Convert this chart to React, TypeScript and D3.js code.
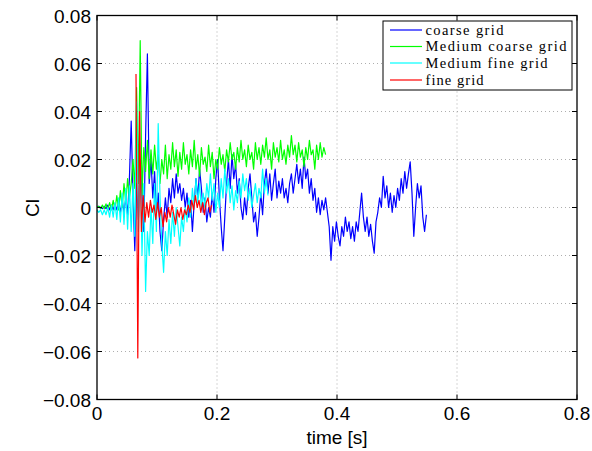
import React from "react";
import * as d3 from "d3";

const T_STEP = 0.003;
const RED_START = 0.065;

const xTicks = [0, 0.2, 0.4, 0.6, 0.8];
const yTicks = [-0.08, -0.06, -0.04, -0.02, 0, 0.02, 0.04, 0.06, 0.08];

const seriesNames = ["coarse grid", "Medium coarse grid", "Medium fine grid", "fine grid"];
const seriesColors = ["#0000ff", "#00ff00", "#00ffff", "#ff0000"];

const coarseCl = [
  0, 0.0005, 0, -0.0005, 0.0005, -0.0005, 0.001, -0.001, 0.001, -0.001,
  0.0015, -0.001, 0.002, -0.002, 0.003, -0.002, 0.004, -0.003, 0.012, 0.036,
  0.005, -0.018, 0.01, -0.005, 0.02, 0.005, -0.01, 0.03, 0.064, 0.01,
  0.02, 0.004, 0.015, -0.002, 0.006, -0.01, -0.018, -0.005, 0.004, -0.004,
  0.008, 0.002, 0.012, 0.004, 0.014, 0.006, 0.01, 0.003, 0.008, 0,
  0.006, -0.004, 0.003, -0.01, 0.002, 0.012, 0.004, 0.016, 0.008, -0.002,
  0.004, -0.006, 0, -0.004, 0.006, -0.002, 0.012, 0.02, 0.004, -0.008,
  -0.018, -0.004, 0.01, 0.02, 0.008, 0.022, 0.012, 0.018, 0.006, 0.012,
  0, -0.005, 0.004, -0.003, 0.008, 0.014, 0.004, -0.006, -0.002, -0.012,
  -0.004, 0.006, -0.003, 0.01, 0.016, 0.006, 0.014, 0.003, 0.01, 0.016,
  0.004, 0.011, 0.006, 0.012, 0.004, 0.008, 0.002, 0.01, 0.014, 0.006,
  0.012, 0.018, 0.01, 0.016, 0.008, 0.021, 0.012, 0.016, 0.006, 0.012,
  0.003, 0.008, -0.002, 0.004, -0.003, 0.003, -0.001, 0.004, -0.002, -0.008,
  -0.022, -0.008, -0.014, -0.006, -0.012, -0.016, -0.008, -0.012, -0.004, -0.01,
  -0.006, -0.013, -0.008, -0.014, -0.006, -0.01, -0.002, 0.006, -0.004, -0.01,
  -0.004, -0.012, -0.007, -0.014, -0.019, -0.006, -0.002, 0.004, 0, 0.013,
  0.004, 0.009, 0, 0.006, -0.002, 0.005, 0, 0.008, 0.003, 0.012,
  0.006, 0.015, 0.008, 0.014, 0.019, 0.006, -0.012, 0, 0.01, 0.004,
  0.009, -0.004, -0.01, -0.003,
];

const mediumCoarseCl = [
  0, 0.0005, -0.0005, 0.001, -0.0005, 0.0015, -0.001, 0.002, -0.001, 0.003,
  -0.001, 0.005, -0.001, 0.007, 0, 0.01, 0.002, 0.012, 0.004, 0.01,
  0.02, 0.008, 0.05, 0.01, 0.0695, 0.005, 0.025, 0.015, 0.028, 0.012,
  0.024, 0.014, 0.026, 0.016, 0.022, 0.01, 0.02, 0.014, 0.026, 0.012,
  0.022, 0.016, 0.027, 0.017, 0.024, 0.013, 0.023, 0.016, 0.027, 0.018,
  0.022, 0.014, 0.024, 0.017, 0.028, 0.016, 0.022, 0.013, 0.025, 0.018,
  0.021, 0.015, 0.026, 0.017, 0.023, 0.012, 0.02, 0.016, 0.025, 0.018,
  0.022, 0.015, 0.024, 0.019, 0.027, 0.02, 0.023, 0.016, 0.025, 0.019,
  0.028, 0.02, 0.024, 0.017, 0.026, 0.02, 0.023, 0.016, 0.027, 0.02,
  0.025, 0.018, 0.026, 0.021, 0.029, 0.02, 0.024, 0.016, 0.027, 0.021,
  0.025, 0.019, 0.028, 0.02, 0.024, 0.018, 0.026, 0.021, 0.03, 0.022,
  0.026, 0.019, 0.027, 0.021, 0.024, 0.017, 0.025, 0.02, 0.028, 0.022,
  0.024, 0.016, 0.026, 0.02, 0.027, 0.021, 0.025, 0.022,
];

const mediumFineCl = [
  -0.001, -0.002, -0.001, -0.003, -0.001, -0.003, 0, -0.004, 0.001, -0.004,
  0.002, -0.005, 0.004, -0.006, 0.006, -0.007, 0.008, -0.009, 0.009, -0.01,
  0.01, -0.012, 0.044, -0.01, 0.02, -0.02, 0.01, -0.035, -0.01, -0.02,
  0, -0.015, 0.01, -0.01, 0.035, 0.005, -0.015, -0.027, -0.01, -0.02,
  -0.005, -0.015, -0.002, -0.012, 0, -0.008, -0.016, -0.004, -0.01, 0,
  -0.006, 0.004, -0.004, 0.008, 0, 0.012, 0.002, 0.01, -0.001, 0.006,
  0, 0.01, 0.004, 0.014, 0.003, 0.01, -0.002, 0.006, 0, 0.012,
  0.004, 0.016, 0.006, 0.012, 0.002, 0.009, -0.001, 0.007, 0.002, 0.011,
  0.004, 0.014, 0.007, 0.012, 0.003, 0.008, 0, 0.005, 0.01, 0.002,
  0.008, 0.004, 0.016, 0.006, 0.012, 0.005,
];

const fineCl = [
  0.0556, -0.0627, 0.04, -0.01, 0.005, -0.006, 0.002, -0.004, 0.003, -0.002,
  0.001, -0.005, 0.002, -0.004, 0, -0.008, -0.002, -0.006, 0, -0.004,
  0.001, -0.003, -0.007, -0.001, -0.004, 0, -0.005, -0.001, -0.003, 0.001,
  -0.002, 0.003, -0.001, 0.005, 0, 0.003, -0.002, 0.002, -0.003, 0.002,
  0.004, -0.002, 0.001,
];

const W = 592;
const H = 451;
const M = { left: 97, right: 577, top: 15.5, bottom: 399.5 };

export default function App() {
  const x = d3.scaleLinear().domain([0, 0.8]).range([M.left, M.right]);
  const y = d3.scaleLinear().domain([-0.08, 0.08]).range([M.bottom, M.top]);

  const mk = (vals: number[], t0: number) =>
    d3
      .line<number>()
      .x((_, i) => x(t0 + i * T_STEP))
      .y((v) => y(v))(vals) || "";

  const paths = [
    mk(coarseCl, 0),
    mk(mediumCoarseCl, 0),
    mk(mediumFineCl, 0),
    mk(fineCl, RED_START),
  ];

  const fmtX = (v: number) => (v === 0 ? "0" : v.toFixed(1));
  const fmtY = (v: number) =>
    v === 0 ? "0" : (v < 0 ? "\u2212" : "") + Math.abs(v).toFixed(2);

  const tickFont = "'Liberation Sans', Arial, Helvetica, sans-serif";
  const legX = 383;
  const legY = 21;
  const legW = 189;
  const legH = 69;
  const rowYs = [30, 46.5, 63, 80];
  const legTextW = [78, 141, 122, 58];

  return (
    <svg
      width={W}
      height={H}
      style={{ position: "absolute", left: 0, top: 0, background: "#fff" }}
    >
      <rect x={0} y={0} width={W} height={H} fill="#fff" />
      <defs>
        <clipPath id="plotclip">
          <rect x={M.left} y={M.top} width={M.right - M.left} height={M.bottom - M.top} />
        </clipPath>
      </defs>
      {/* grid */}
      <g stroke="#999" strokeWidth={0.8} strokeDasharray="1,3">
        {xTicks.slice(1, -1).map((t) => (
          <line key={"gx" + t} x1={x(t)} x2={x(t)} y1={M.top} y2={M.bottom} />
        ))}
        {yTicks.slice(1, -1).map((t) => (
          <line key={"gy" + t} x1={M.left} x2={M.right} y1={y(t)} y2={y(t)} />
        ))}
      </g>
      {/* data */}
      <g clipPath="url(#plotclip)" fill="none" strokeWidth={1.2} strokeLinejoin="round">
        {paths.map((d, i) => (
          <path key={i} d={d} stroke={seriesColors[i]} />
        ))}
      </g>
      {/* ticks */}
      <g stroke="#000" strokeWidth={1}>
        {xTicks.map((t) => (
          <g key={"tx" + t}>
            <line x1={x(t)} x2={x(t)} y1={M.bottom} y2={M.bottom - 5} />
            <line x1={x(t)} x2={x(t)} y1={M.top} y2={M.top + 5} />
          </g>
        ))}
        {yTicks.map((t) => (
          <g key={"ty" + t}>
            <line x1={M.left} x2={M.left + 5} y1={y(t)} y2={y(t)} />
            <line x1={M.right} x2={M.right - 5} y1={y(t)} y2={y(t)} />
          </g>
        ))}
      </g>
      <rect
        x={M.left}
        y={M.top}
        width={M.right - M.left}
        height={M.bottom - M.top}
        fill="none"
        stroke="#000"
        strokeWidth={1.3}
      />
      {/* tick labels */}
      <g fontFamily={tickFont} fontSize={19} fill="#000">
        {xTicks.map((t) => (
          <text key={"lx" + t} x={x(t)} y={420} textAnchor="middle">
            {fmtX(t)}
          </text>
        ))}
        {yTicks.map((t) => (
          <text key={"ly" + t} x={M.left - 6} y={y(t) + 7} textAnchor="end">
            {fmtY(t)}
          </text>
        ))}
        <text x={337} y={444} textAnchor="middle">
          time [s]
        </text>
        <text transform={`translate(39,208) rotate(-90)`} textAnchor="middle">
          Cl
        </text>
      </g>
      {/* legend */}
      <rect x={legX} y={legY} width={legW} height={legH} fill="#fff" stroke="#000" strokeWidth={1} />
      {seriesNames.map((n, i) => (
        <g key={n}>
          <line x1={390} x2={422} y1={rowYs[i]} y2={rowYs[i]} stroke={seriesColors[i]} strokeWidth={1.2} />
          <text
            x={425.5}
            y={rowYs[i] + 4.5}
            fontFamily="'Liberation Serif', 'Times New Roman', serif"
            fontSize={14.5}
            textLength={legTextW[i]}
            lengthAdjust="spacing"
            fill="#000"
          >
            {n}
          </text>
        </g>
      ))}
    </svg>
  );
}
